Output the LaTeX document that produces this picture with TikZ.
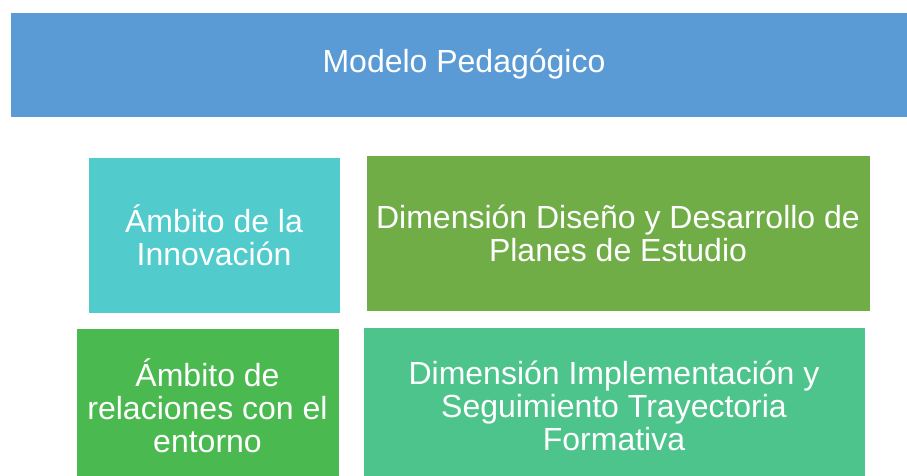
\documentclass[tikz,border=0pt]{standalone}
\usepackage{fontspec}
\setmainfont{Liberation Sans}

\definecolor{modeloazul}{RGB}{91,155,213}
\definecolor{ambitocian}{RGB}{82,203,204}
\definecolor{ambitoverde}{RGB}{74,186,80}
\definecolor{dimoliva}{RGB}{112,173,71}
\definecolor{dimmenta}{RGB}{78,196,141}

\tikzset{
  caja/.style={draw=white, line width=0.6pt, text=white, align=center,
    inner sep=0pt, font=\fontsize{32}{33}\selectfont}
}

\begin{document}
\begin{tikzpicture}[x=1pt,y=-1pt]
  \useasboundingbox (0,0) rectangle (907,476);
  \node[caja, fill=modeloazul, minimum width=908pt, minimum height=105pt] (modelo)
    at (464,64.5) {Modelo Pedagógico};
  %%
  \node[caja, fill=ambitocian, minimum width=252pt, minimum height=156pt] (innovacion)
    at (214,235) {Ámbito de la\\Innovación};
  \node[caja, fill=dimoliva, minimum width=504pt, minimum height=156pt] (diseno)
    at (618,233) {Dimensión Diseño y Desarrollo de\\Planes de Estudio};
  %%
  \node[caja, fill=ambitoverde, minimum width=263pt, minimum height=156pt] (entorno)
    at (207.5,406) {Ámbito de\\relaciones con el\\entorno};
  \node[caja, fill=dimmenta, minimum width=502pt, minimum height=157pt] (trayectoria)
    at (614,405.5) {Dimensión Implementación y\\Seguimiento Trayectoria\\Formativa};
\end{tikzpicture}
\end{document}
